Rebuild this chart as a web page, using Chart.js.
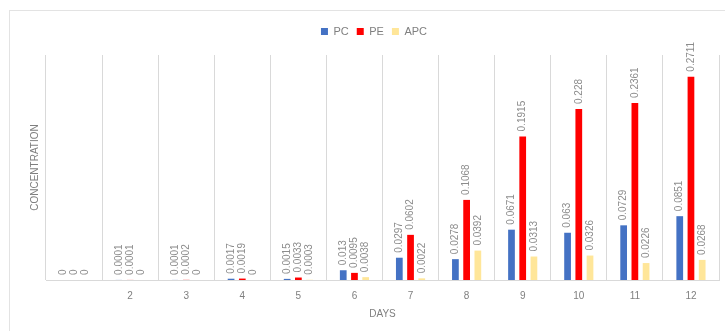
<!DOCTYPE html>
<html>
<head>
<meta charset="utf-8">
<script src="https://cdn.jsdelivr.net/npm/chart.js@4/dist/chart.umd.min.js"></script>
<style>
  html, body { margin: 0; padding: 0; background: #ffffff; }
  #wrap { position: relative; width: 725px; height: 331px; }
</style>
</head>
<body>
<div id="wrap"><canvas id="c" width="725" height="331"></canvas></div>
<script>
// Day labels (first day left unlabelled)
const days = ["", "2", "3", "4", "5", "6", "7", "8", "9", "10", "11", "12"];

// Concentrations per day
const pcValues  = [0, 0.0001, 0.0001, 0.0017, 0.0015, 0.013, 0.0297, 0.0278, 0.0671, 0.063, 0.0729, 0.0851];
const peValues  = [0, 0.0001, 0.0002, 0.0019, 0.0033, 0.0095, 0.0602, 0.1068, 0.1915, 0.228, 0.2361, 0.2711];
const apcValues = [0, 0, 0, 0, 0.0003, 0.0038, 0.0022, 0.0392, 0.0313, 0.0326, 0.0226, 0.0268];

const seriesNames = ["PC", "PE", "APC"];
const seriesColors = ["#4472c4", "#ff0000", "#ffe699"];

const GREY_TEXT = "#7f7f7f";
const GRID = "#d9d9d9";
const FONT = "'Liberation Sans', Arial, sans-serif";

// Light frame around the whole chart
const framePlugin = {
  id: "frame",
  beforeDraw(chart) {
    const ctx = chart.ctx;
    ctx.save();
    ctx.strokeStyle = "#e3e3e3";
    ctx.lineWidth = 1;
    ctx.strokeRect(9.5, 10.5, 800, 400);
    ctx.restore();
  }
};

// Extra gap between the legend and the plot
const legendGap = {
  id: "legendGap",
  beforeLayout(chart) {
    const lg = chart.legend;
    if (lg && !lg._gapPatched) {
      const fit = lg.fit;
      lg.fit = function () {
        fit.call(this);
        this.height += 8;
      };
      lg._gapPatched = true;
    }
  }
};

// Vertical value labels above each bar
const valueLabels = {
  id: "valueLabels",
  afterDatasetsDraw(chart) {
    const ctx = chart.ctx;
    ctx.save();
    ctx.font = "10px " + FONT;
    ctx.fillStyle = "#8c8c8c";
    ctx.textAlign = "left";
    ctx.textBaseline = "middle";
    chart.data.datasets.forEach((ds, di) => {
      const meta = chart.getDatasetMeta(di);
      meta.data.forEach((bar, i) => {
        const v = ds.data[i];
        ctx.save();
        ctx.translate(bar.x, bar.y - 5);
        ctx.rotate(-Math.PI / 2);
        ctx.fillText(String(v), 0, 0);
        ctx.restore();
      });
    });
    ctx.restore();
  }
};

const valueSets = [pcValues, peValues, apcValues];

new Chart(document.getElementById("c"), {
  type: "bar",
  data: {
    labels: days,
    datasets: seriesNames.map((name, k) => ({
      label: name,
      data: valueSets[k],
      backgroundColor: seriesColors[k],
      borderWidth: 0,
      barPercentage: 0.6,
      categoryPercentage: 0.6
    }))
  },
  options: {
    responsive: false,
    animation: false,
    devicePixelRatio: 1,
    layout: { padding: { top: 18, left: 29, right: 6, bottom: 11 } },
    plugins: {
      legend: {
        position: "top",
        labels: {
          boxWidth: 7,
          boxHeight: 7,
          padding: 8,
          color: GREY_TEXT,
          font: { size: 11, family: FONT }
        }
      },
      tooltip: { enabled: false }
    },
    scales: {
      x: {
        grid: { color: GRID, drawTicks: false, offset: true },
        border: { color: GRID },
        ticks: { color: GREY_TEXT, font: { size: 10, family: FONT, lineHeight: 1 }, padding: 11 },
        title: {
          display: true, text: "DAYS", color: GREY_TEXT,
          font: { size: 10, family: FONT }, padding: { top: -4, bottom: 0 }
        }
      },
      y: {
        min: 0,
        max: 0.3,
        grid: { display: false, drawTicks: false },
        border: { display: false },
        ticks: { display: false },
        title: {
          display: true, text: "CONCENTRATION", color: GREY_TEXT,
          font: { size: 10, family: FONT }, padding: { top: 0, bottom: 5 }
        }
      }
    }
  },
  plugins: [framePlugin, legendGap, valueLabels]
});
</script>
</body>
</html>
